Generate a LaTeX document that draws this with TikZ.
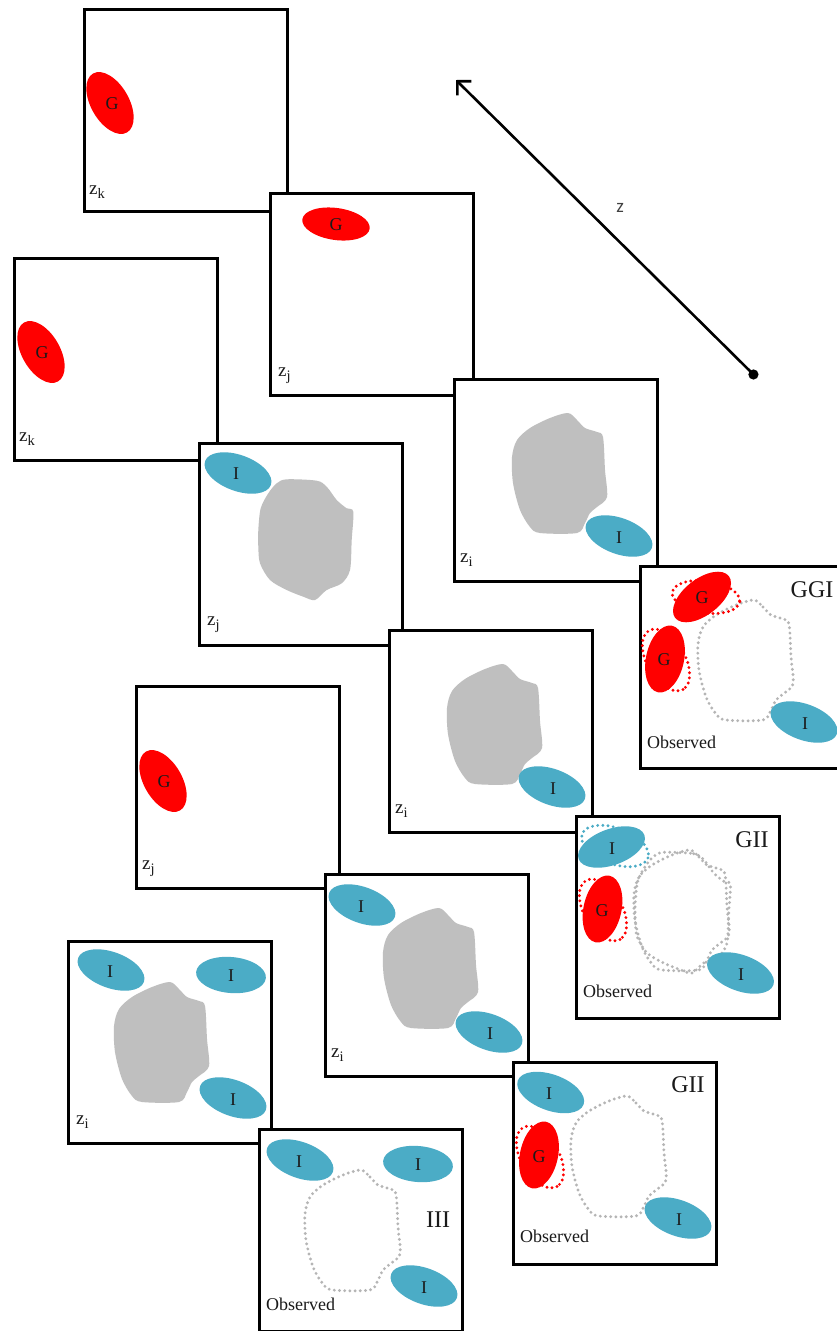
\documentclass[tikz,border=0pt]{standalone}
\usepackage{fontspec}
\setmainfont{Liberation Serif}
\newfontfamily\zfont{Carlito}
\usetikzlibrary{arrows.meta}
\definecolor{gred}{HTML}{FF0000}
\definecolor{iblue}{HTML}{4BACC6}
\definecolor{bgray}{HTML}{BFBFBF}
\definecolor{dgray}{HTML}{B5B5B5}
\definecolor{txt}{HTML}{1A1A1A}
\newcommand{\ovalshape}[6]{\path[#6, rotate around={#5:(#1,#2)}] (#1,#2) ellipse [x radius=#3, y radius=#4];}
\newcommand{\blobpathC}[1]{\path[#1] plot[smooth cycle, tension=0.5] coordinates {(115,35) (124,42) (132,50) (144,54) (150,59) (152,92) (154,119) (144,129) (137,135) (132,145) (124,155) (87,155) (77,149) (67,132) (60,105) (59,79) (64,62) (77,50) (97,40)};}
\newcommand{\blobpathF}[1]{\path[#1] plot[smooth cycle, tension=0.5] coordinates {(88.7,37.3) (118.7,38.7) (128.7,44.7) (138.7,58) (148.7,66.3) (155.3,69.7) (153.7,98) (152,128) (143.7,141.3) (128.7,148) (117,158) (105.3,154.7) (88.7,148) (72,138) (62,121.3) (60.3,104.7) (60.3,88) (62.7,66.3) (70.3,51.3) (78.7,41.3)};}
\newcommand{\zsub}[1]{z\raisebox{-4pt}{\fontsize{14.5}{14.5}\selectfont #1}}
\begin{document}
\begin{tikzpicture}[x=1pt,y=-1pt,
  box/.style={draw=black, line width=3pt, fill=white, rectangle, minimum width=203pt, minimum height=202pt, anchor=north west, inner sep=0pt},
  lab/.style={font=\fontsize{18}{18}\selectfont, inner sep=0pt, text=txt},
  big/.style={font=\fontsize{24}{24}\selectfont, inner sep=0pt, text=txt},
  obs/.style={font=\fontsize{18}{18}\selectfont, inner sep=0pt, anchor=base west, text=txt},
  zl/.style={font=\fontsize{19}{19}\selectfont, inner sep=0pt, anchor=base west, text=txt},
  gfill/.style={fill=gred},
  ifill/.style={fill=iblue},
  dots/.style={line width=3.2pt, dash pattern=on 0pt off 5.2pt, line cap=round},
  gdots/.style={dots, draw=gred},
  idots/.style={dots, draw=iblue},
  bdots/.style={dots, draw=dgray},
  blobfill/.style={fill=bgray}]
\useasboundingbox (0,0) rectangle (837,1331);

% ---------- arrow z ----------
\coordinate (zs) at (757,378);
\coordinate (ze) at (456,80);
\draw[line width=2.6pt, {Circle[length=10pt]}-{Straight Barb[length=10pt,width=20pt]}] (zs) -- (ze);
\node[font=\zfont\fontsize{19}{19}\selectfont, text=black!75, inner sep=0pt] (zlab) at (620,208) {z};

% ---------- chain 1 : A B C D ----------
\node[box] (bA) at (83,8) {};
\begin{scope}[shift={(83,8)}]
  \ovalshape{27}{95}{34}{19}{-60}{gfill}
  \node[lab] (aG) at (29,96) {G};
  \node[zl] (aZ) at (6,186) {\zsub{k}};
\end{scope}

\node[box] (bB) at (269,192) {};
\begin{scope}[shift={(269,192)}]
  \ovalshape{67}{32}{34}{16}{-8}{gfill}
  \node[lab] (bG) at (67,33) {G};
  \node[zl] (bZ) at (9,184) {\zsub{j}};
\end{scope}

\node[box] (bC) at (453,378) {};
\begin{scope}[shift={(453,378)}]
  \blobpathC{blobfill}
  \ovalshape{166}{158}{35}{18}{-20}{ifill}
  \node[lab] (cI) at (166,160) {I};
  \node[zl] (cZ) at (7,184) {\zsub{i}};
\end{scope}

\node[box] (bD) at (639,565) {};
\begin{scope}[shift={(639,565)}]
  \blobpathC{bdots}
  \ovalshape{67}{32}{34}{16}{-8}{gdots}
  \ovalshape{63}{32}{34}{18}{38}{gfill}
  \node[lab] (dG1) at (63,33) {G};
  \ovalshape{27}{95}{34}{19}{-60}{gdots}
  \ovalshape{26}{94}{34}{19}{78}{gfill}
  \node[lab] (dG2) at (25,95) {G};
  \ovalshape{165}{157}{35}{18}{-20}{ifill}
  \node[lab] (dI) at (166,159) {I};
  \node[big] (dT) at (173,25) {GGI};
  \node[obs] (dO) at (8,183) {Observed};
\end{scope}

% ---------- chain 2 : E F G H ----------
\node[box] (bE) at (13,257) {};
\begin{scope}[shift={(13,257)}]
  \ovalshape{28}{95}{34}{19}{-60}{gfill}
  \node[lab] (eG) at (29,96) {G};
  \node[zl] (eZ) at (6,184) {\zsub{k}};
\end{scope}

\node[box] (bF) at (198,442) {};
\begin{scope}[shift={(198,442)}]
  \blobpathF{blobfill}
  \ovalshape{40}{31}{35}{18}{-20}{ifill}
  \node[lab] (fI) at (38,32) {I};
  \node[zl] (fZ) at (9,183) {\zsub{j}};
\end{scope}

\node[box] (bG) at (388,629) {};
\begin{scope}[shift={(388,629)}]
  \blobpathC{blobfill}
  \ovalshape{164}{158}{35}{18}{-20}{ifill}
  \node[lab] (gI) at (165,160) {I};
  \node[zl] (gZ) at (7,184) {\zsub{i}};
\end{scope}

\node[box] (bH) at (575,815) {};
\begin{scope}[shift={(575,815)}]
  \blobpathF{bdots}
  \blobpathC{bdots}
  \ovalshape{40}{31}{35}{18}{-20}{idots}
  \ovalshape{36.5}{32}{35}{18}{20}{ifill}
  \node[lab] (hI1) at (37,34) {I};
  \ovalshape{28}{95}{34}{19}{-60}{gdots}
  \ovalshape{27.5}{94}{34}{19}{78}{gfill}
  \node[lab] (hG) at (27,96) {G};
  \ovalshape{165.5}{158}{35}{18}{-20}{ifill}
  \node[lab] (hI2) at (166,160) {I};
  \node[big] (hT) at (177,25) {GII};
  \node[obs] (hO) at (8,182) {Observed};
\end{scope}

% ---------- chain 3 : I J K ----------
\node[box] (bI) at (135,685) {};
\begin{scope}[shift={(135,685)}]
  \ovalshape{28}{96}{34}{19}{-60}{gfill}
  \node[lab] (iG) at (29,97) {G};
  \node[zl] (iZ) at (7,184) {\zsub{j}};
\end{scope}

\node[box] (bJ) at (324,873) {};
\begin{scope}[shift={(324,873)}]
  \blobpathC{blobfill}
  \ovalshape{38}{32}{35}{18}{-20}{ifill}
  \node[lab] (jI1) at (37,34) {I};
  \ovalshape{165}{159}{35}{18}{-20}{ifill}
  \node[lab] (jI2) at (166,161) {I};
  \node[zl] (jZ) at (7,184) {\zsub{i}};
\end{scope}

\node[box] (bK) at (512,1061) {};
\begin{scope}[shift={(512,1061)}]
  \blobpathC{bdots}
  \ovalshape{38.7}{31.5}{35}{18}{-20}{ifill}
  \node[lab] (kI1) at (37,33) {I};
  \ovalshape{28}{96}{34}{19}{-60}{gdots}
  \ovalshape{27}{94}{34}{19}{78}{gfill}
  \node[lab] (kG) at (27,96) {G};
  \ovalshape{166}{157}{35}{18}{-20}{ifill}
  \node[lab] (kI2) at (167,159) {I};
  \node[big] (kT) at (176,24) {GII};
  \node[obs] (kO) at (8,181) {Observed};
\end{scope}

% ---------- chain 4 : L M ----------
\node[box] (bL) at (67,940) {};
\begin{scope}[shift={(67,940)}]
  \blobpathC{blobfill, shift={(-12,7)}}
  \ovalshape{44}{30}{35}{18}{-20}{ifill}
  \node[lab] (lI1) at (43,32) {I};
  \ovalshape{164}{35}{35}{18}{-5}{ifill}
  \node[lab] (lI2) at (164,36) {I};
  \ovalshape{166}{158}{35}{18}{-20}{ifill}
  \node[lab] (lI3) at (166,160) {I};
  \node[zl] (lZ) at (9,184) {\zsub{i}};
\end{scope}

\node[box] (bM) at (258,1128) {};
\begin{scope}[shift={(258,1128)}]
  \blobpathC{bdots, shift={(-12,7)}}
  \ovalshape{42}{32}{35}{18}{-20}{ifill}
  \node[lab] (mI1) at (41,34) {I};
  \ovalshape{160}{36}{35}{18}{-5}{ifill}
  \node[lab] (mI2) at (160,37) {I};
  \ovalshape{166}{158}{35}{18}{-20}{ifill}
  \node[lab] (mI3) at (166,160) {I};
  \node[big] (mT) at (180,92) {III};
  \node[obs] (mO) at (8,182) {Observed};
\end{scope}
\end{tikzpicture}
\end{document}
